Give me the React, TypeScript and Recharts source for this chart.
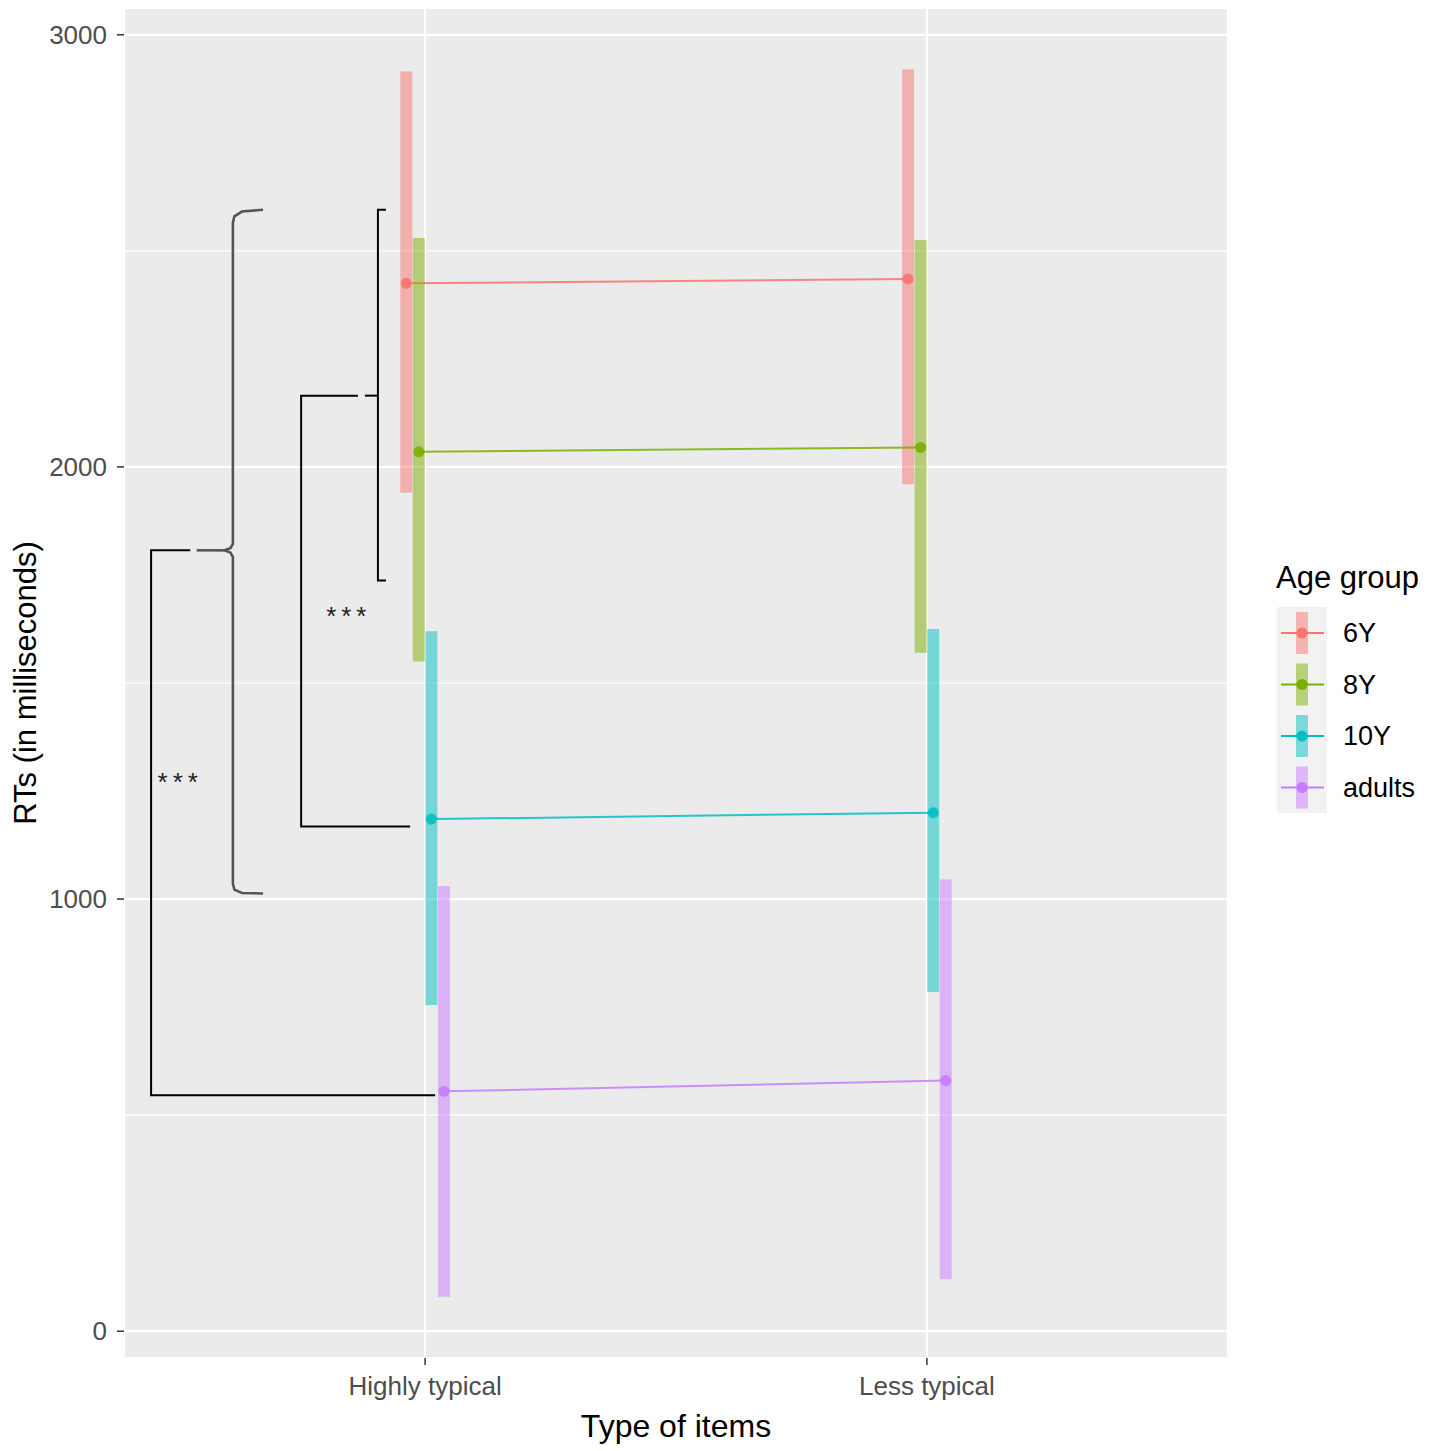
import React from 'react';
import { ComposedChart, Line, ErrorBar, XAxis, YAxis, CartesianGrid, ReferenceDot, Label } from 'recharts';

// ---- data ----
const categories = ['Highly typical', 'Less typical'];
const groups = ['6Y', '8Y', '10Y', 'adults'];
const groupColors = ['#F8766D', '#7CAE00', '#00BFC4', '#C77CFF'];

const mean6Y = [2425, 2435];
const low6Y = [1940, 1960];
const high6Y = [2915, 2920];

const mean8Y = [2035, 2045];
const low8Y = [1550, 1570];
const high8Y = [2530, 2525];

const mean10Y = [1185, 1200];
const low10Y = [755, 785];
const high10Y = [1620, 1625];

const meanAdults = [555, 580];
const lowAdults = [80, 120];
const highAdults = [1030, 1045];

const yTicks = [0, 1000, 2000, 3000];
const yMinorTicks = [500, 1500, 2500];
const xTicks = [1, 2];

// significance annotations (data coordinates)
const braceBig = [
  { x: 0.677, y: 2595 }, { x: 0.635, y: 2591 }, { x: 0.62, y: 2580 }, { x: 0.617, y: 2565 },
  { x: 0.617, y: 1822 }, { x: 0.612, y: 1812 }, { x: 0.6, y: 1807 }, { x: 0.612, y: 1802 },
  { x: 0.617, y: 1792 }, { x: 0.617, y: 1035 }, { x: 0.62, y: 1022 }, { x: 0.635, y: 1014 },
  { x: 0.677, y: 1013 },
];
const braceTick = [{ x: 0.545, y: 1807 }, { x: 0.6, y: 1807 }];
const bracketOuter = [{ x: 0.532, y: 1807 }, { x: 0.454, y: 1807 }, { x: 0.454, y: 546 }, { x: 1.02, y: 546 }];
const bracketMiddle = [{ x: 0.866, y: 2165 }, { x: 0.753, y: 2165 }, { x: 0.753, y: 1168 }, { x: 0.97, y: 1168 }];
const bracketRight = [{ x: 0.922, y: 2595 }, { x: 0.906, y: 2595 }, { x: 0.906, y: 1737 }, { x: 0.922, y: 1737 }];
const bracketRightTick = [{ x: 0.88, y: 2165 }, { x: 0.906, y: 2165 }];
const starLabels = [
  { x: 0.848, y: 1655, text: '***' },
  { x: 0.512, y: 1270, text: '***' },
];

// ---- build series tables ----
const DODGE = 0.1;
const seriesMeans = [mean6Y, mean8Y, mean10Y, meanAdults];
const seriesLows = [low6Y, low8Y, low10Y, lowAdults];
const seriesHighs = [high6Y, high8Y, high10Y, highAdults];

const seriesData = groups.map((g, gi) => {
  const off = -DODGE / 2 + (DODGE / groups.length) * (gi + 0.5);
  return categories.map((c, ci) => ({
    x: ci + 1 + off,
    y: seriesMeans[gi][ci],
    err: [seriesMeans[gi][ci] - seriesLows[gi][ci], seriesHighs[gi][ci] - seriesMeans[gi][ci]],
  }));
});

const FONT = '"Liberation Sans", Arial, Helvetica, sans-serif';

const YTitle = (props: any) => {
  const vb = props.viewBox || { x: 0, y: 8, width: 124, height: 1350 };
  const cx = vb.x + 25;
  const cy = vb.y + vb.height / 2;
  return (
    <text
      x={cx}
      y={cy}
      transform={`rotate(-90, ${cx}, ${cy})`}
      textAnchor="middle"
      dominantBaseline="central"
      fontSize={31}
      fill="#000"
      fontFamily={FONT}
    >
      RTs (in milliseconds)
    </text>
  );
};

const StarLabel = (text: string) => (props: any) => {
  const vb = props.viewBox || { x: 0, y: 0 };
  const cx = vb.x + (vb.width || 0) / 2;
  const cy = vb.y + (vb.height || 0) / 2;
  return (
    <text x={cx} y={cy} textAnchor="middle" dominantBaseline="central" fontSize={26} letterSpacing={5} fill="#222" fontFamily={FONT}>
      {text}
    </text>
  );
};

const annotationLines = [braceBig, braceTick, bracketOuter, bracketMiddle, bracketRight, bracketRightTick];

export default function App() {
  return (
    <div style={{ position: 'absolute', left: 0, top: 0, width: 1430, height: 1451, background: '#fff', fontFamily: FONT }}>
      <ComposedChart width={1430} height={1451} margin={{ top: 8, right: 202, bottom: 0, left: 0 }}>
        <CartesianGrid fill="#EBEBEB" stroke="#FFFFFF" strokeWidth={2.2} />
        <CartesianGrid fill="none" stroke="#FFFFFF" strokeWidth={1.1} vertical={false} horizontalValues={yMinorTicks} />
        <XAxis
          type="number"
          dataKey="x"
          domain={[0.4, 2.6]}
          ticks={xTicks}
          allowDataOverflow
          tickFormatter={(v: number) => categories[Math.round(v) - 1]}
          height={93}
          axisLine={false}
          tickSize={7}
          tickMargin={12}
          tickLine={{ stroke: '#333333', strokeWidth: 1.5 }}
          tick={{ fill: '#4D4D4D', fontSize: 26, fontFamily: FONT }}
        >
          <Label value="Type of items" position="insideBottom" offset={14} fontSize={32} fill="#000" fontFamily={FONT} />
        </XAxis>
        <YAxis
          type="number"
          domain={[-62, 3062]}
          ticks={yTicks}
          allowDataOverflow
          width={124}
          axisLine={false}
          tickSize={7}
          tickMargin={10}
          tickLine={{ stroke: '#333333', strokeWidth: 1.5 }}
          tick={{ fill: '#4D4D4D', fontSize: 26, fontFamily: FONT }}
          label={{ content: YTitle }}
        />
        {groups.map((g, gi) => (
          <Line
            key={g}
            data={seriesData[gi]}
            dataKey="y"
            name={g}
            type="linear"
            stroke={groupColors[gi]}
            strokeWidth={2}
            strokeOpacity={0.85}
            dot={{ r: 5.5, fill: groupColors[gi], stroke: 'none', fillOpacity: 0.9 }}
            activeDot={false}
            isAnimationActive={false}
          >
            <ErrorBar
              dataKey="err"
              direction="y"
              width={0}
              strokeWidth={12}
              stroke={groupColors[gi]}
              strokeOpacity={0.5}
              isAnimationActive={false}
            />
          </Line>
        ))}
        {annotationLines.map((pts, i) => (
          <Line
            key={'ann' + i}
            data={pts}
            dataKey="y"
            type="linear"
            stroke={i === 0 || i === 1 ? '#555555' : '#000000'}
            strokeWidth={i === 0 || i === 1 ? 2.6 : 2}
            dot={false}
            activeDot={false}
            legendType="none"
            isAnimationActive={false}
          />
        ))}
        {starLabels.map((s, i) => (
          <ReferenceDot
            key={'star' + i}
            x={s.x}
            y={s.y}
            r={0}
            fill="none"
            stroke="none"
            label={{ content: StarLabel(s.text) }}
          />
        ))}
      </ComposedChart>
      <svg style={{ position: 'absolute', left: 1260, top: 550, overflow: 'visible' }} width={170} height={280}>
        <text x={16} y={38} fontSize={31} fill="#000" fontFamily={FONT}>Age group</text>
        <rect x={17} y={57} width={50} height={206} fill="#F2F2F2" />
        {groups.map((g, gi) => {
          const cy = 83 + gi * 51.5;
          return (
            <g key={g}>
              <rect x={36} y={cy - 21} width={12} height={42} fill={groupColors[gi]} fillOpacity={0.5} />
              <line x1={21} x2={64} y1={cy} y2={cy} stroke={groupColors[gi]} strokeWidth={2} />
              <circle cx={42} cy={cy} r={5.5} fill={groupColors[gi]} />
              <text x={83} y={cy} dominantBaseline="central" fontSize={27} fill="#000" fontFamily={FONT}>{g}</text>
            </g>
          );
        })}
      </svg>
    </div>
  );
}
